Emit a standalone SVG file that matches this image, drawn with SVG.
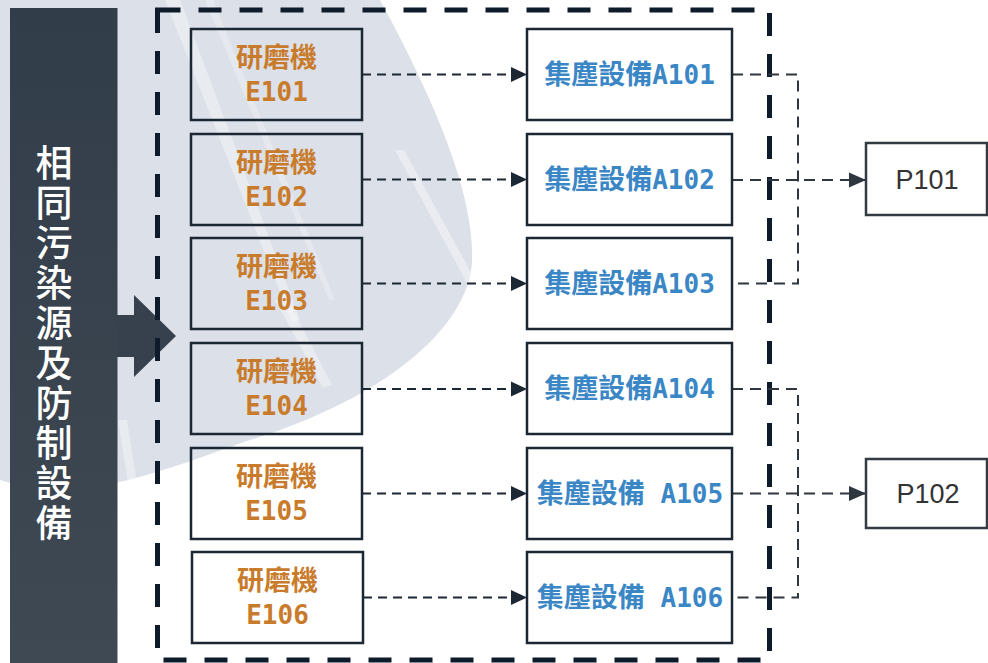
<svg xmlns="http://www.w3.org/2000/svg" width="988" height="663" viewBox="0 0 988 663">
<defs>
<style>
.box{fill:none;stroke:#1b2733;stroke-width:2.5}
.abox{fill:#ffffff;stroke:#1b2733;stroke-width:2.5}
.pbox{fill:#ffffff;stroke:#333a42;stroke-width:2.5}
.cj{font-family:"Noto Sans CJK TC","Noto Sans CJK SC",sans-serif;font-weight:700;font-size:27px}
.mono{font-family:"DejaVu Sans Mono","Liberation Mono",monospace;font-weight:700;font-size:26px}
.or{fill:#c97b2c}
.bl{fill:#3b87c6}
.p{font-family:"Liberation Sans",Arial,sans-serif;font-size:27px;fill:#333333}
.flow{fill:none;stroke:#1b2733;stroke-width:2;stroke-dasharray:9 6}
.merge{fill:none;stroke:#2e3640;stroke-width:2;stroke-dasharray:11 7}
.vt{font-family:"Noto Sans CJK TC","Noto Sans CJK SC",sans-serif;font-size:37px;font-weight:500;fill:#ffffff;writing-mode:vertical-rl;text-orientation:upright;letter-spacing:3px}
</style>
<linearGradient id="barg" x1="0" y1="0" x2="0" y2="1">
<stop offset="0" stop-color="#323d4a"/>
<stop offset="1" stop-color="#3e4953"/>
</linearGradient>
<clipPath id="shapeclip">
<path d="M0,0 L380,0 C440,110 475,200 472,262 C468,330 380,400 250,440 C150,475 80,505 0,480 Z"/>
</clipPath>
<marker id="ah" markerUnits="userSpaceOnUse" markerWidth="16" markerHeight="16" viewBox="0 0 16 16" refX="16" refY="8" orient="auto">
<path d="M0,0.5 L16,8 L0,15.5 Z" fill="#1b2733"/>
</marker>
<marker id="ah2" markerUnits="userSpaceOnUse" markerWidth="17" markerHeight="16" viewBox="0 0 17 16" refX="17" refY="8" orient="auto">
<path d="M0,0.5 L17,8 L0,15.5 Z" fill="#2e3640"/>
</marker>
</defs>
<rect x="0" y="0" width="988" height="663" fill="#ffffff"/>
<g id="background">
<path d="M0,0 L380,0 C440,110 475,200 472,262 C468,330 380,400 250,440 C150,475 80,505 0,480 Z" fill="#dce0e9"/>
<g clip-path="url(#shapeclip)" fill="#ffffff">
<polygon points="165,0 180,0 300,320 292,322" opacity="0.35"/>
<polygon points="205,0 213,0 335,300 329,300" opacity="0.25"/>
<polygon points="395,150 404,150 475,280 468,285" opacity="0.4"/>
<polygon points="275,300 288,300 332,385 323,388" opacity="0.35"/>
<polygon points="118,420 127,420 138,490 129,490" opacity="0.35"/>
</g>
</g>
<g id="side-bar">
<rect x="10" y="8" width="107.5" height="655" fill="url(#barg)"/>
<polygon points="117,315 134,315 134,295 176,336 134,377 134,357 117,357" fill="#36414d"/>
<text class="vt" x="54" y="144">相同污染源及防制設備</text>
</g>
<g id="group-frame">
<rect x="157.5" y="10" width="612" height="650" fill="none" stroke="#0d1b2a" stroke-width="5" stroke-dasharray="23 18"/>
</g>
<g id="connectors">
<path class="flow" d="M362,74.5 H527" marker-end="url(#ah)"/>
<path class="flow" d="M362,179.5 H527" marker-end="url(#ah)"/>
<path class="flow" d="M362,283.5 H527" marker-end="url(#ah)"/>
<path class="flow" d="M362,389 H527" marker-end="url(#ah)"/>
<path class="flow" d="M362,493.5 H527" marker-end="url(#ah)"/>
<path class="flow" d="M363,597.5 H527" marker-end="url(#ah)"/>
<path class="merge" d="M732,74.5 H798 V283.5 H732"/>
<path class="merge" d="M732,180 H866" marker-end="url(#ah2)"/>
<path class="merge" d="M732,389 H798 V597.5 H732"/>
<path class="merge" d="M732,493.5 H866" marker-end="url(#ah2)"/>
</g>
<g id="E101"><rect class="box" x="191" y="29" width="171" height="91"/>
<text class="cj or" x="276.5" y="67" text-anchor="middle">研磨機</text>
<text class="mono or" x="276.5" y="101" text-anchor="middle">E101</text></g>
<g id="E102"><rect class="box" x="191" y="134" width="171" height="91"/>
<text class="cj or" x="276.5" y="172" text-anchor="middle">研磨機</text>
<text class="mono or" x="276.5" y="206" text-anchor="middle">E102</text></g>
<g id="E103"><rect class="box" x="191" y="238" width="171" height="91"/>
<text class="cj or" x="276.5" y="276" text-anchor="middle">研磨機</text>
<text class="mono or" x="276.5" y="310" text-anchor="middle">E103</text></g>
<g id="E104"><rect class="box" x="191" y="343" width="171" height="91"/>
<text class="cj or" x="276.5" y="381" text-anchor="middle">研磨機</text>
<text class="mono or" x="276.5" y="415" text-anchor="middle">E104</text></g>
<g id="E105"><rect class="box" x="191" y="448" width="171" height="91"/>
<text class="cj or" x="276.5" y="486" text-anchor="middle">研磨機</text>
<text class="mono or" x="276.5" y="520" text-anchor="middle">E105</text></g>
<g id="E106"><rect class="box" x="192" y="552" width="171" height="91"/>
<text class="cj or" x="277.5" y="590" text-anchor="middle">研磨機</text>
<text class="mono or" x="277.5" y="624" text-anchor="middle">E106</text></g>
<g id="A101"><rect class="abox" x="527" y="29" width="205" height="91"/>
<text class="cj bl" x="629.5" y="84" text-anchor="middle">集塵設備<tspan class="mono">A101</tspan></text></g>
<g id="A102"><rect class="abox" x="527" y="134" width="205" height="91"/>
<text class="cj bl" x="629.5" y="189" text-anchor="middle">集塵設備<tspan class="mono">A102</tspan></text></g>
<g id="A103"><rect class="abox" x="527" y="238" width="205" height="91"/>
<text class="cj bl" x="629.5" y="293" text-anchor="middle">集塵設備<tspan class="mono">A103</tspan></text></g>
<g id="A104"><rect class="abox" x="527" y="343" width="205" height="91"/>
<text class="cj bl" x="629.5" y="398" text-anchor="middle">集塵設備<tspan class="mono">A104</tspan></text></g>
<g id="A105"><rect class="abox" x="527" y="448" width="205" height="91"/>
<text class="cj bl" x="630" y="503" text-anchor="middle">集塵設備<tspan class="mono" xml:space="preserve"> A105</tspan></text></g>
<g id="A106"><rect class="abox" x="527" y="552" width="205" height="91"/>
<text class="cj bl" x="630" y="607" text-anchor="middle">集塵設備<tspan class="mono" xml:space="preserve"> A106</tspan></text></g>
<g id="P101"><rect class="pbox" x="866" y="143" width="121" height="72"/>
<text class="p" x="927" y="189" text-anchor="middle">P101</text></g>
<g id="P102"><rect class="pbox" x="866" y="459" width="121" height="69"/>
<text class="p" x="928" y="503" text-anchor="middle">P102</text></g>
</svg>
